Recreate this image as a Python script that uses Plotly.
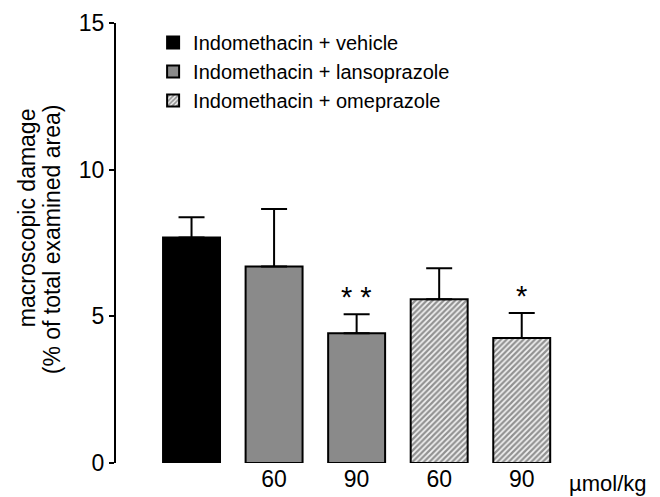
import plotly.graph_objects as go

groups = ["Indomethacin + vehicle", "Indomethacin + lansoprazole", "Indomethacin + omeprazole"]
doses = ["", "60", "90", "60", "90"]
group_of_bar = [0, 1, 1, 2, 2]
means = [7.69, 6.70, 4.42, 5.58, 4.26]
sem = [0.69, 1.96, 0.65, 1.06, 0.85]
significance = ["", "", "* *", "", "*"]
y_ticks = [0, 5, 10, 15]
unit_label = "µmol/kg"
y_title_lines = ["macroscopic damage", "(% of total examined area)"]

FONT = "Liberation Sans, Arial, sans-serif"
fills = ["#000000", "#8a8a8a", "#ffffff"]
patterns = [None, None, dict(shape="/", fgcolor="#303030", bgcolor="#f2f2f2", size=4, solidity=0.55)]

fig = go.Figure()
for g, name in enumerate(groups):
    idx = [i for i, gg in enumerate(group_of_bar) if gg == g]
    marker = dict(color=fills[g], line=dict(color="#000000", width=2))
    if patterns[g]:
        marker["pattern"] = patterns[g]
    fig.add_trace(go.Bar(
        name=name,
        x=idx,
        y=[means[i] for i in idx],
        width=0.69,
        marker=marker,
        error_y=dict(type="data", symmetric=False, array=[sem[i] for i in idx],
                     arrayminus=[0] * len(idx), color="#000000", thickness=2, width=13),
    ))

for i, s in enumerate(significance):
    if s:
        fig.add_annotation(x=i, y=means[i] + sem[i] + 0.6, text=s, showarrow=False,
                           font=dict(family=FONT, size=29, color="#000000"),
                           xref="x", yref="y", yanchor="middle")

fig.add_annotation(x=1.0996, y=0, xref="paper", yref="paper", text=unit_label, showarrow=False,
                   xanchor="center", yanchor="top", yshift=-6,
                   font=dict(family=FONT, size=22, color="#000000"))

for line, xp, yp in zip(y_title_lines, [-0.199, -0.143], [0.81, 0.82]):
    fig.add_annotation(x=xp, y=yp, xref="paper", yref="paper", textangle=-90,
                       text=line, showarrow=False, xanchor="center", yanchor="top",
                       font=dict(family=FONT, size=23, color="#000000"))

fig.update_layout(
    width=652, height=489,
    margin=dict(l=108, r=97, t=15, b=34, autoexpand=False),
    paper_bgcolor="white", plot_bgcolor="white",
    barmode="overlay",
    showlegend=True,
    legend=dict(x=0.083, y=1.0, xanchor="left", yanchor="top",
                font=dict(family=FONT, size=20, color="#000000"),
                bgcolor="rgba(0,0,0,0)", tracegroupgap=0, itemwidth=30),
    font=dict(family=FONT, color="#000000"),
    xaxis=dict(range=[-0.915, 4.5], tickvals=list(range(len(doses))), ticktext=doses,
               showline=False, showgrid=False, zeroline=False, ticks="", automargin=False,
               tickfont=dict(family=FONT, size=23, color="#000000")),
    yaxis=dict(range=[0, 15], tickvals=y_ticks, showline=True, linecolor="#000000", linewidth=2,
               ticks="outside", ticklen=5, tickwidth=2, tickcolor="#000000",
               showgrid=False, zeroline=False, automargin=False,
               tickfont=dict(family=FONT, size=23, color="#000000")),
)

fig.write_html("out.html")
